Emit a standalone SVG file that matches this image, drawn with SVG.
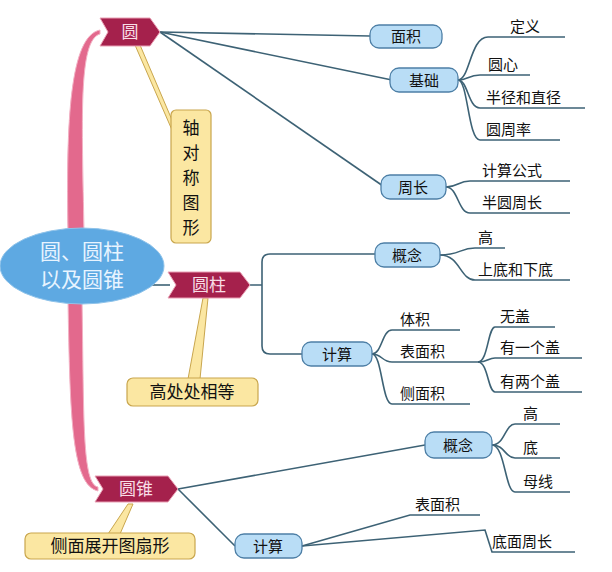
<svg xmlns="http://www.w3.org/2000/svg" width="612" height="572" viewBox="0 0 612 572">
<style>
text{font-family:"Noto Sans CJK SC",sans-serif;font-size:15px;fill:#111}
.c path{fill:none;stroke:#3d6275;stroke-width:1.6}
.flag{fill:#a5214c;stroke:#e9a0b4;stroke-width:1}
.ft{fill:#f8dde6;font-size:17px}
.bb{fill:#b9ddf6;stroke:#4d7fa6;stroke-width:1.3}
.yb{fill:#fbe7a2;stroke:#c9a64d;stroke-width:1.2}
.ptr{fill:#fbe7a2;stroke:#c9a64d;stroke-width:1}
</style>
<rect width="612" height="572" fill="#fff"/>
<g id="trunk">
<path d="M84,232 C82,120 78,40 100,34 L100,30 C70,36 66,120 68,232 Z" fill="#e3698d" stroke="#f3b1c4"/>
<path d="M68,300 C70,420 72,485 98,491 L98,487 C82,484 84,420 82,300 Z" fill="#e3698d" stroke="#f3b1c4"/>
<line x1="150" y1="285" x2="170" y2="285" stroke="#3d6275" stroke-width="1.6"/>
</g>
<g class="c" id="connectors">
<path d="M160,32 L370,36"/><path d="M160,32 L392,80"/><path d="M160,32 L383,186"/>
<path d="M458,80 C470,80 470,37 488,37 H565"/><path d="M458,80 C468,80 468,75 480,75 H530"/>
<path d="M458,80 C468,80 468,108 480,108 H585"/><path d="M458,80 C468,80 468,140 480,140 H560"/>
<path d="M446,187 C458,187 458,181 470,181 H570"/><path d="M446,187 C458,187 458,213 470,213 H570"/>
<path d="M250,285 H262 M270,254 H375 M270,354 H302 M262,285 V262 Q262,254 270,254 M262,285 V346 Q262,354 270,354"/>
<path d="M440,255 C460,255 460,248 475,248 H505"/><path d="M440,255 C460,255 460,280 475,280 H570"/>
<path d="M372,354 C382,354 382,330 392,330 H460"/><path d="M372,354 C382,354 382,362 392,362 H478"/><path d="M372,354 C382,354 382,404 392,404 H470"/>
<path d="M478,362 C488,362 488,327 495,327 H555"/><path d="M478,362 C488,362 488,358 495,358 H582"/><path d="M478,362 C488,362 488,392 495,392 H582"/>
<path d="M178,489 L425,445"/><path d="M178,489 L235,546"/>
<path d="M492,445 C505,445 505,424 515,424 H560"/><path d="M492,445 C505,445 505,458 515,458 H560"/><path d="M492,445 C505,445 505,492 515,492 H570"/>
<path d="M302,546 L410,515 H480"/><path d="M302,546 L485,530 L492,552 H575"/>
</g>
<g id="pointers">
<path class="ptr" d="M135,45 L172,130 L172,120 L140,45 Z"/>
<path class="ptr" d="M203,298 L188,379 L200,379 L208,298 Z"/>
<path class="ptr" d="M128,504 L108,534 L120,534 L133,504 Z"/>
</g>
<g id="center"><ellipse cx="82" cy="266" rx="82" ry="38" fill="#5ea9e2" stroke="#8fc3ea"/>
<text x="82" y="259" text-anchor="middle" style="font-size:21px;fill:#e8f4ff">圆、圆柱</text>
<text x="82" y="287" text-anchor="middle" style="font-size:21px;fill:#e8f4ff">以及圆锥</text></g>
<g id="n-yuan"><path class="flag" d="M100,18 H150 L160,32 L150,46 H100 L108,32 Z"/><text class="ft" x="130" y="38" text-anchor="middle">圆</text></g>
<g id="n-yuanzhu"><path class="flag" d="M168,272 H240 L250,285 L240,298 H168 L176,285 Z"/><text class="ft" x="209" y="291" text-anchor="middle">圆柱</text></g>
<g id="n-yuanzhui"><path class="flag" d="M95,476 H168 L178,489 L168,502 H95 L103,489 Z"/><text class="ft" x="136" y="495" text-anchor="middle">圆锥</text></g>
<g id="c1"><rect class="yb" x="171" y="110" width="40" height="133" rx="5"/>
<text x="191" y="134" text-anchor="middle" style="font-size:17px">轴</text><text x="191" y="159" text-anchor="middle" style="font-size:17px">对</text><text x="191" y="184" text-anchor="middle" style="font-size:17px">称</text><text x="191" y="209" text-anchor="middle" style="font-size:17px">图</text><text x="191" y="234" text-anchor="middle" style="font-size:17px">形</text></g>
<g id="c2"><rect class="yb" x="127" y="378" width="131" height="28" rx="6"/><text x="192" y="398" text-anchor="middle" style="font-size:17px">高处处相等</text></g>
<g id="c3"><rect class="yb" x="25" y="533" width="170" height="26" rx="6"/><text x="110" y="552" text-anchor="middle" style="font-size:17px">侧面展开图扇形</text></g>
<g id="b-mianji"><rect class="bb" x="370" y="25" width="72" height="23" rx="9"/><text x="406" y="42" text-anchor="middle">面积</text></g>
<g id="b-jichu"><rect class="bb" x="390" y="68" width="68" height="24" rx="9"/><text x="424" y="86" text-anchor="middle">基础</text></g>
<g id="b-zhouchang"><rect class="bb" x="381" y="175" width="65" height="24" rx="9"/><text x="413" y="193" text-anchor="middle">周长</text></g>
<g id="b-gn1"><rect class="bb" x="375" y="243" width="65" height="24" rx="9"/><text x="407" y="261" text-anchor="middle">概念</text></g>
<g id="b-js1"><rect class="bb" x="302" y="342" width="70" height="24" rx="9"/><text x="337" y="360" text-anchor="middle">计算</text></g>
<g id="b-gn2"><rect class="bb" x="425" y="432" width="67" height="26" rx="9"/><text x="458" y="451" text-anchor="middle">概念</text></g>
<g id="b-js2"><rect class="bb" x="235" y="534" width="67" height="24" rx="9"/><text x="268" y="552" text-anchor="middle">计算</text></g>
<g id="labels">
<text x="510" y="32">定义</text><text x="488" y="70">圆心</text><text x="486" y="103">半径和直径</text><text x="486" y="135">圆周率</text>
<text x="482" y="176">计算公式</text><text x="482" y="208">半圆周长</text>
<text x="478" y="243">高</text><text x="478" y="275">上底和下底</text>
<text x="400" y="325">体积</text><text x="400" y="357">表面积</text><text x="400" y="399">侧面积</text>
<text x="500" y="322">无盖</text><text x="500" y="353">有一个盖</text><text x="500" y="387">有两个盖</text>
<text x="523" y="419">高</text><text x="523" y="453">底</text><text x="523" y="487">母线</text>
<text x="415" y="510">表面积</text><text x="492" y="547">底面周长</text>
</g>
</svg>
